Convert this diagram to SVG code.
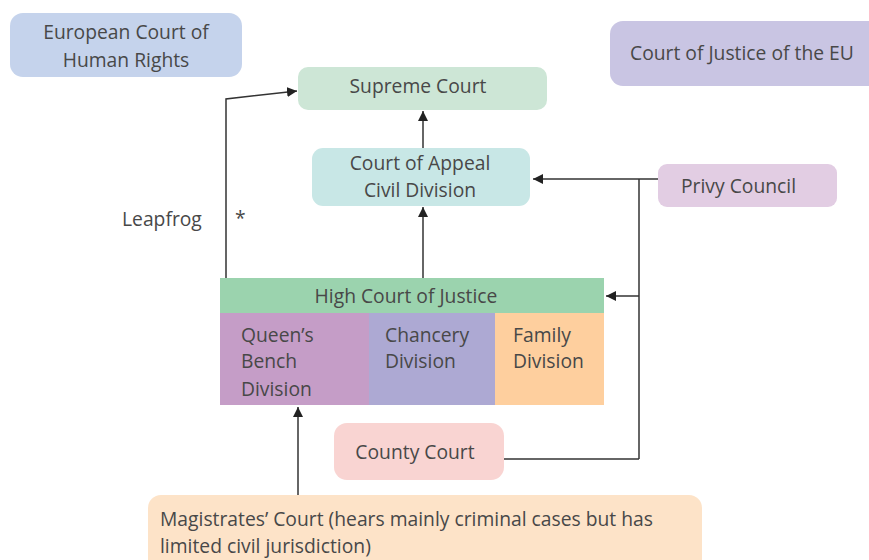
<svg xmlns="http://www.w3.org/2000/svg" width="869" height="560" viewBox="0 0 869 560">
  <defs>
    <marker id="arrow" viewBox="0 0 10 10" refX="10" refY="5" markerWidth="10" markerHeight="10" markerUnits="userSpaceOnUse" orient="auto">
      <path d="M0,0 L10,5 L0,10 z" fill="#222"/>
    </marker>
    <style>
      text { font-family: "Open Sans", "Liberation Sans", sans-serif; font-size: 19.3px; fill: #484848; }
      .c { text-anchor: middle; }
      .edge { fill: none; stroke: #333; stroke-width: 1.5; }
      .arr { marker-end: url(#arrow); }
    </style>
  </defs>
  <rect width="869" height="560" fill="#fff"/>

  <!-- connectors -->
  <g id="connectors">
    <polyline class="edge arr" points="226,278 226,99 297,91"/>
    <line class="edge arr" x1="423" y1="148" x2="423" y2="111"/>
    <line class="edge arr" x1="423" y1="278" x2="423" y2="207"/>
    <polyline class="edge arr" points="658,179 533,179"/>
    <line class="edge" x1="639" y1="179" x2="639" y2="459"/>
    <line class="edge arr" x1="639" y1="296" x2="606" y2="296"/>
    <line class="edge" x1="504" y1="459" x2="639" y2="459"/>
    <line class="edge arr" x1="298" y1="495" x2="298" y2="407"/>
  </g>

  <g id="echr">
    <rect x="10" y="13" width="232" height="64" rx="13" fill="#c5d3ec"/>
    <text class="c" x="126" y="39">European Court of</text>
    <text class="c" x="126" y="67">Human Rights</text>
  </g>

  <g id="cjeu">
    <rect x="610" y="21" width="280" height="65" rx="13" fill="#c9c5e3"/>
    <text x="630" y="60">Court of Justice of the EU</text>
  </g>

  <g id="supreme-court">
    <rect x="298" y="67" width="249" height="43" rx="10" fill="#cde6d6"/>
    <text class="c" x="418" y="93">Supreme Court</text>
  </g>

  <g id="court-of-appeal">
    <rect x="312" y="148" width="218" height="58" rx="11" fill="#c8e7e6"/>
    <text class="c" x="420" y="170">Court of Appeal</text>
    <text class="c" x="420" y="197">Civil Division</text>
  </g>

  <g id="privy-council">
    <rect x="658" y="164" width="179" height="43" rx="9" fill="#e2cde3"/>
    <text x="681" y="193">Privy Council</text>
  </g>

  <g id="leapfrog">
    <text x="122" y="226">Leapfrog</text>
    <text x="235" y="225">*</text>
  </g>

  <g id="high-court">
    <rect x="220" y="278" width="384" height="35" fill="#9bd3ae"/>
    <text class="c" x="406" y="303">High Court of Justice</text>
    <rect x="220" y="313" width="149" height="92" fill="#c59dc7"/>
    <text x="241" y="342">Queen’s</text>
    <text x="241" y="368">Bench</text>
    <text x="241" y="396">Division</text>
    <rect x="369" y="313" width="126" height="92" fill="#ada9d3"/>
    <text x="385" y="342">Chancery</text>
    <text x="385" y="368">Division</text>
    <rect x="495" y="313" width="109" height="92" fill="#fecf9e"/>
    <text x="513" y="342">Family</text>
    <text x="513" y="368">Division</text>
  </g>

  <g id="county-court">
    <rect x="334" y="423" width="170" height="57" rx="13" fill="#f9d4d2"/>
    <text class="c" x="415" y="459">County Court</text>
  </g>

  <g id="magistrates-court">
    <rect x="148" y="495" width="554" height="80" rx="13" fill="#fde3c8"/>
    <text x="160" y="526">Magistrates’ Court (hears mainly criminal cases but has</text>
    <text x="160" y="553">limited civil jurisdiction)</text>
  </g>
</svg>
